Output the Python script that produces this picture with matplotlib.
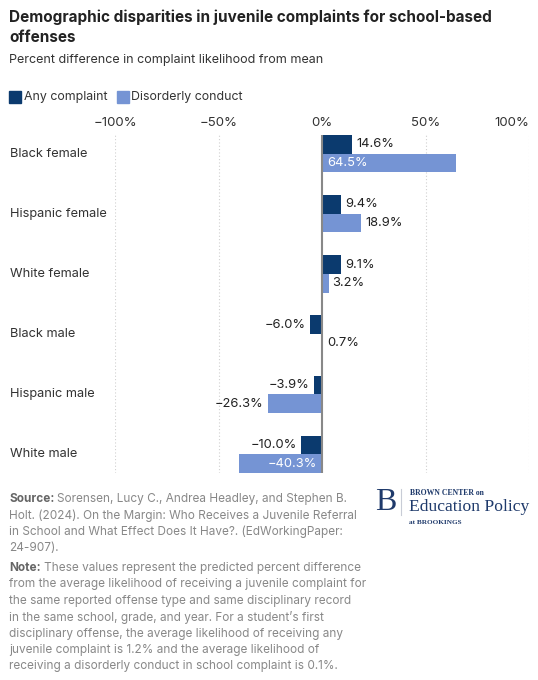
import matplotlib
matplotlib.use('Agg')
import matplotlib.pyplot as plt
import matplotlib.ticker as mticker

W, H = 538, 680

groups = ['Black female', 'Hispanic female', 'White female',
          'Black male', 'Hispanic male', 'White male']
any_complaint = [14.6, 9.4, 9.1, -6.0, -3.9, -10.0]
disorderly = [64.5, 18.9, 3.2, 0.7, -26.3, -40.3]
ticks = [-100, -50, 0, 50, 100]

DARK = '#0b3a6e'
LIGHT = '#7594d4'
FONT = ['Inter', 'DejaVu Sans']

plt.rcParams['font.family'] = FONT

fig = plt.figure(figsize=(W / 100, H / 100), dpi=100)


def fx(x):
    return x / W


def fy(y):
    return 1 - y / H


# plot area in pixel terms
left, right, top, bottom = 115, 529, 135, 473
ax = fig.add_axes([fx(left), fy(bottom), fx(right - left), (bottom - top) / H])

bh = 0.31
pos = list(range(len(groups)))
ax.barh([p - bh / 2 for p in pos], any_complaint, height=bh, color=DARK, zorder=3)
ax.barh([p + bh / 2 for p in pos], disorderly, height=bh, color=LIGHT, zorder=3)

ax.set_xlim(-100, 100)
ax.set_ylim(len(groups) - 1 + bh, -bh)


def pct(v):
    return f'{v:.1f}%'.replace('-', '\u2212')


def outside(v, y):
    if v >= 0:
        ax.annotate(pct(v), (v, y), xytext=(4, 0), textcoords='offset pixels',
                    ha='left', va='center', fontsize=9.3, color='#222222')
    else:
        ax.annotate(pct(v), (v, y), xytext=(-4, 0), textcoords='offset pixels',
                    ha='right', va='center', fontsize=9.3, color='#222222')


for p, v in zip(pos, any_complaint):
    outside(v, p - bh / 2)

for p, v in zip(pos, disorderly):
    if abs(v) > 30:
        # long bars carry the label inside, next to zero
        off = 5 if v > 0 else -5
        ax.annotate(pct(v), (0, p + bh / 2), xytext=(off, 0), textcoords='offset pixels',
                    ha='left' if v > 0 else 'right', va='center', fontsize=9.3,
                    color='white', zorder=5)
    else:
        outside(v, p + bh / 2)

for t in ticks:
    if t == 0:
        ax.axvline(0, color='#888888', lw=1.5, zorder=4)
    else:
        ax.axvline(t, color='#d0d0d0', lw=0.8, ls=(0, (1, 2)), zorder=1)

ax.xaxis.tick_top()
ax.set_xticks(ticks)
ax.xaxis.set_major_formatter(mticker.FuncFormatter(
    lambda v, _: f'{v:.0f}%'.replace('-', '\u2212')))
ax.tick_params(axis='x', length=0, pad=4, labelsize=9.5, labelcolor='#333333')
ax.get_xticklabels()[-1].set_horizontalalignment('right')
ax.set_yticks([])
for sp in ax.spines.values():
    sp.set_visible(False)

# category labels, placed at the group centre
for p, g in zip(pos, groups):
    yp = top + (p + bh) * (bottom - top) / (len(groups) - 1 + 2 * bh)
    fig.text(fx(10), fy(yp), g, ha='left', va='center', fontsize=9.2, color='#333333')

# title block
fig.text(fx(9), fy(17), 'Demographic disparities in juvenile complaints for school-based',
         fontsize=11, fontweight='bold', color='#222222', va='center')
fig.text(fx(9), fy(37), 'offenses', fontsize=11, fontweight='bold', color='#222222', va='center')
fig.text(fx(9), fy(60), 'Percent difference in complaint likelihood from mean',
         fontsize=9.0, color='#333333', va='center')

# legend
fig.patches.append(plt.Rectangle((fx(9), fy(103)), fx(12), 12 / H, color=DARK,
                                 transform=fig.transFigure, figure=fig))
fig.text(fx(24), fy(97), 'Any complaint', fontsize=8.9, color='#333333', va='center')
fig.patches.append(plt.Rectangle((fx(117), fy(103)), fx(12), 12 / H, color=LIGHT,
                                 transform=fig.transFigure, figure=fig))
fig.text(fx(131), fy(97), 'Disorderly conduct', fontsize=8.9, color='#333333', va='center')

# footer
renderer = fig.canvas.get_renderer()
src_lines = ['Sorensen, Lucy C., Andrea Headley, and Stephen B.',
             'Holt. (2024). On the Margin: Who Receives a Juvenile Referral',
             'in School and What Effect Does It Have?. (EdWorkingPaper:',
             '24-907).']
note_lines = ['These values represent the predicted percent difference',
              'from the average likelihood of receiving a juvenile complaint for',
              'the same reported offense type and same disciplinary record',
              'in the same school, grade, and year. For a student\u2019s first',
              'disciplinary offense, the average likelihood of receiving any',
              'juvenile complaint is 1.2% and the average likelihood of',
              'receiving a disorderly conduct in school complaint is 0.1%.']

lh = 16.4


def block(label, lines, y0):
    t = fig.text(fx(9), fy(y0), label, fontsize=8.5, fontweight='bold',
                 color='#666666', va='center')
    bb = t.get_window_extent(renderer)
    for i, ln in enumerate(lines):
        x = bb.x1 + 3 if i == 0 else 9
        fig.text(fx(x), fy(y0 + i * lh), ln, fontsize=8.5, color='#888888', va='center')


block('Source:', src_lines, 499)
block('Note:', note_lines, 568)

# logo
NAVY = '#1f3a6b'
fig.text(fx(375), fy(502), 'B', fontsize=23, family='Liberation Serif',
         color=NAVY, va='center', ha='left')
fig.add_artist(plt.Line2D([fx(401), fx(401)], [fy(489), fy(515)], color='#c8ccd6', lw=0.8))
fig.text(fx(410), fy(493), 'BROWN CENTER on', fontsize=5.6, family='Liberation Serif',
         fontweight='bold', color=NAVY, va='center')
fig.text(fx(409), fy(507), 'Education Policy', fontsize=12.6, family='Liberation Serif',
         color=NAVY, va='center')
fig.text(fx(409), fy(522), 'at BROOKINGS', fontsize=5.2, family='Liberation Serif',
         fontweight='bold', color=NAVY, va='center')

fig.savefig('out.png', dpi=100)
